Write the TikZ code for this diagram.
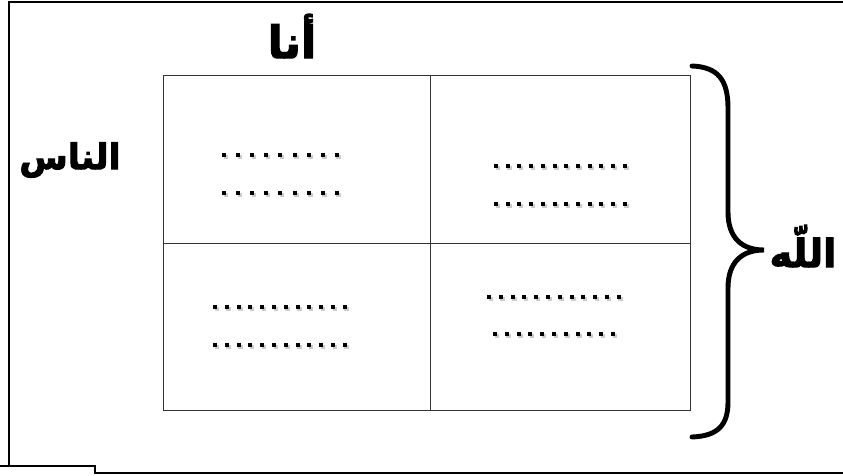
\documentclass[tikz,border=0pt]{standalone}
\usepackage{fontspec}
\TeXXeTstate=1
\newfontfamily\arabicfont[Script=Arabic,BoldFeatures={FakeBold=2.5}]{DejaVu Sans}
\tikzset{
  arlabel/.style={font=\arabicfont\bfseries, inner sep=0pt},
  frameline/.style={line width=1.7pt},
  gridline/.style={line width=0.6pt, draw=black!80},
  bracestyle/.style={line width=4.2pt, line cap=round}
}
% one row of dots with a grey shadow: start x, y, count, spacing
\newcommand\dotrow[4]{%
  \foreach \k in {1,...,#3}{%
    \fill[black!20] ({#1+(\k-1)*#4+1.5-2},{#2+1.5-2}) rectangle ++(4.5,4);
    \fill ({#1+(\k-1)*#4-2},{#2-2}) rectangle ++(4,3.5);
  }%
}
\begin{document}
\begin{tikzpicture}[x=0.03cm, y=-0.03cm]
  \useasboundingbox (0,0) rectangle (843,475);
  % outer frame, with the step at bottom left
  \draw[frameline] (9,466) -- (9,2) -- (843,2);
  \draw[frameline] (0,466) -- (95,466) -- (95,473) -- (843,473);
  % the four cells
  \draw[gridline] (163,75) rectangle (690,410);
  \draw[gridline] (430,75) -- (430,410);
  \draw[gridline] (163,243) -- (690,243);
  % dotted lines in the cells
  \dotrow{224}{155}{9}{14.1}
  \dotrow{224}{193}{9}{14.1}
  \dotrow{496}{166}{12}{11.7}
  \dotrow{496}{204}{12}{11.7}
  \dotrow{215}{307}{12}{11.8}
  \dotrow{215}{345}{12}{11.8}
  \dotrow{489}{297}{12}{11.8}
  \dotrow{495}{334}{11}{11.8}
  % curly brace on the right
  \draw[bracestyle] (692,66) .. controls (718,67) and (728,80) .. (728,108)
    -- (728,212) .. controls (728,238) and (742,250) .. (764,250)
    .. controls (742,250) and (728,262) .. (728,288)
    -- (728,402) .. controls (728,425) and (718,436) .. (692,437);
  % labels
  \node[arlabel, font=\arabicfont\bfseries\fontsize{38}{44}\selectfont] (ana) at (292,36) {\beginR أنا\endR};
  \node[arlabel, font=\arabicfont\bfseries\fontsize{30}{36}\selectfont] (nas) at (70,160) {\beginR الناس\endR};
  \node[arlabel, font=\arabicfont\bfseries\fontsize{33}{40}\selectfont] (allah) at (803,246) {\beginR اللّه\endR};
\end{tikzpicture}
\end{document}
